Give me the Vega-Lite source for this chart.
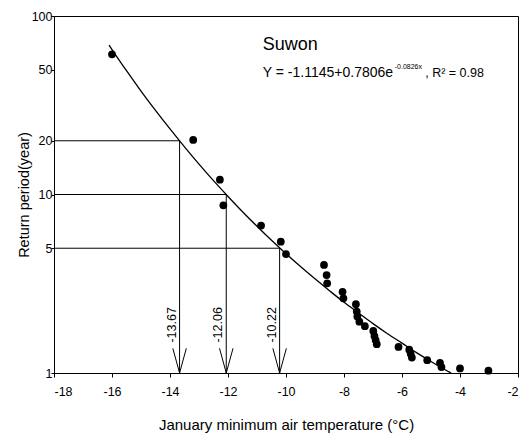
{
  "$schema": "https://vega.github.io/schema/vega-lite/v6.json",
  "width": 464,
  "height": 357,
  "autosize": "none",
  "padding": {"left": 54, "top": 16, "right": 6, "bottom": 62},
  "background": "white",
  "config": {
    "view": {"stroke": "black", "strokeWidth": 1},
    "font": "Liberation Sans",
    "axis": {
      "grid": false,
      "domainColor": "black",
      "tickColor": "black",
      "labelColor": "black",
      "titleColor": "black",
      "titleFontWeight": "normal",
      "labelFont": "Liberation Sans",
      "titleFont": "Liberation Sans"
    }
  },
  "datasets": {
    "points": [
      {"x": -16.0, "y": 61},
      {"x": -13.2, "y": 20.2},
      {"x": -12.28, "y": 12.1},
      {"x": -12.16, "y": 8.7},
      {"x": -10.86, "y": 6.7},
      {"x": -10.18, "y": 5.44},
      {"x": -10.0, "y": 4.64},
      {"x": -8.69, "y": 4.03},
      {"x": -8.6, "y": 3.54},
      {"x": -8.58, "y": 3.18},
      {"x": -8.05, "y": 2.85},
      {"x": -8.02, "y": 2.62},
      {"x": -7.59, "y": 2.43},
      {"x": -7.56, "y": 2.21},
      {"x": -7.54, "y": 2.07},
      {"x": -7.47, "y": 1.94},
      {"x": -7.28, "y": 1.83},
      {"x": -6.99, "y": 1.72},
      {"x": -6.95, "y": 1.61},
      {"x": -6.91, "y": 1.53},
      {"x": -6.87, "y": 1.45},
      {"x": -6.12, "y": 1.4},
      {"x": -5.75, "y": 1.35},
      {"x": -5.7, "y": 1.28},
      {"x": -5.66, "y": 1.22},
      {"x": -5.13, "y": 1.18},
      {"x": -4.69, "y": 1.14},
      {"x": -4.64, "y": 1.08},
      {"x": -4.0, "y": 1.06},
      {"x": -3.02, "y": 1.03}
    ],
    "curve": [
      {"x": -16.1, "y": 68.6},
      {"x": -16.0, "y": 64.9},
      {"x": -15.5, "y": 49.4},
      {"x": -15.0, "y": 38.0},
      {"x": -14.5, "y": 29.6},
      {"x": -14.0, "y": 23.3},
      {"x": -13.5, "y": 18.5},
      {"x": -13.0, "y": 14.8},
      {"x": -12.5, "y": 11.95},
      {"x": -12.0, "y": 9.75},
      {"x": -11.5, "y": 8.01},
      {"x": -11.0, "y": 6.64},
      {"x": -10.5, "y": 5.54},
      {"x": -10.0, "y": 4.66},
      {"x": -9.5, "y": 3.95},
      {"x": -9.0, "y": 3.37},
      {"x": -8.5, "y": 2.89},
      {"x": -8.0, "y": 2.49},
      {"x": -7.5, "y": 2.17},
      {"x": -7.0, "y": 1.89},
      {"x": -6.5, "y": 1.66},
      {"x": -6.0, "y": 1.47},
      {"x": -5.5, "y": 1.3},
      {"x": -5.0, "y": 1.16},
      {"x": -4.5, "y": 1.04},
      {"x": -4.31, "y": 1.0}
    ],
    "hlines": [
      {"x": -18, "x2": -13.67, "y": 20},
      {"x": -18, "x2": -12.06, "y": 10},
      {"x": -18, "x2": -10.22, "y": 5}
    ],
    "vlines": [
      {"x": -13.67, "y": 20, "y2": 1},
      {"x": -12.06, "y": 10, "y2": 1},
      {"x": -10.22, "y": 5, "y2": 1}
    ],
    "arrows": [
      {"x": -13.67, "y": 1},
      {"x": -12.06, "y": 1},
      {"x": -10.22, "y": 1}
    ],
    "arrowLabels": [
      {"x": -13.67, "y": 1.86, "label": "-13.67"},
      {"x": -12.06, "y": 1.86, "label": "-12.06"},
      {"x": -10.22, "y": 1.86, "label": "-10.22"}
    ],
    "station": [{"x": -10.8, "y": 68.8, "label": "Suwon"}],
    "eqMain": [{"x": -10.8, "y": 47.9, "label": "Y = -1.1145+0.7806e"}],
    "eqSup": [{"x": -6.25, "y": 51.6, "label": "-0.0826x"}],
    "eqTail": [{"x": -5.2, "y": 47.9, "label": ", R² = 0.98"}]
  },
  "encoding": {
    "x": {
      "field": "x",
      "type": "quantitative",
      "scale": {"domain": [-18, -2], "nice": false, "zero": false},
      "axis": {
        "values": [-18, -16, -14, -12, -10, -8, -6, -4, -2],
        "labelExpr": "toString(datum.value)",
        "tickSize": 4,
        "labelPadding": 8,
        "labelFontSize": 12.5,
        "titleFontSize": 15,
        "titlePadding": 20
      },
      "title": "January minimum air temperature (°C)"
    },
    "y": {
      "field": "y",
      "type": "quantitative",
      "scale": {"type": "log", "domain": [1, 100], "nice": false},
      "axis": {
        "values": [1, 5, 10, 20, 50, 100],
        "tickSize": 3,
        "labelPadding": -1,
        "labelFontSize": 12.5,
        "titleFontSize": 14.5,
        "titlePadding": 0
      },
      "title": "Return period(year)"
    }
  },
  "layer": [
    {
      "data": {"name": "hlines"},
      "mark": {"type": "rule", "color": "black", "strokeWidth": 1},
      "encoding": {"x2": {"field": "x2"}}
    },
    {
      "data": {"name": "vlines"},
      "mark": {"type": "rule", "color": "black", "strokeWidth": 1},
      "encoding": {"y2": {"field": "y2"}}
    },
    {
      "data": {"name": "arrows"},
      "mark": {
        "type": "point",
        "shape": "M -0.52 -1.9 L 0 0 L 0.52 -1.9",
        "size": 676,
        "filled": false,
        "stroke": "black",
        "strokeWidth": 1,
        "opacity": 1
      }
    },
    {
      "data": {"name": "curve"},
      "mark": {"type": "line", "color": "black", "strokeWidth": 1.3, "interpolate": "monotone"}
    },
    {
      "data": {"name": "points"},
      "mark": {"type": "circle", "color": "black", "size": 60, "opacity": 1}
    },
    {
      "data": {"name": "arrowLabels"},
      "mark": {"type": "text", "angle": 270, "align": "center", "baseline": "bottom", "dy": -1, "fontSize": 12.5, "color": "black"},
      "encoding": {"text": {"field": "label"}}
    },
    {
      "data": {"name": "station"},
      "mark": {"type": "text", "align": "left", "baseline": "middle", "fontSize": 18, "color": "black"},
      "encoding": {"text": {"field": "label"}}
    },
    {
      "data": {"name": "eqMain"},
      "mark": {"type": "text", "align": "left", "baseline": "middle", "fontSize": 14, "color": "black"},
      "encoding": {"text": {"field": "label"}}
    },
    {
      "data": {"name": "eqSup"},
      "mark": {"type": "text", "align": "left", "baseline": "middle", "fontSize": 7, "color": "black"},
      "encoding": {"text": {"field": "label"}}
    },
    {
      "data": {"name": "eqTail"},
      "mark": {"type": "text", "align": "left", "baseline": "middle", "fontSize": 12.5, "color": "black"},
      "encoding": {"text": {"field": "label"}}
    }
  ]
}
